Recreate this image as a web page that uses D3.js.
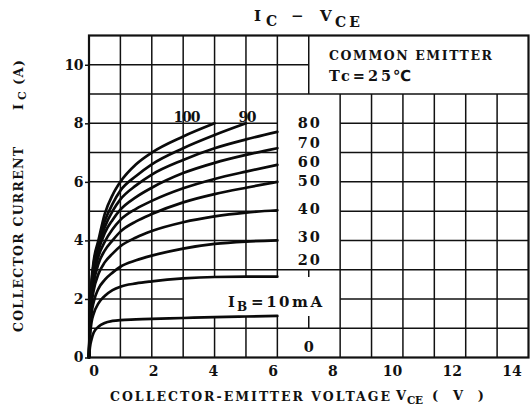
<!DOCTYPE html>
<html><head><meta charset="utf-8">
<script src="https://cdn.jsdelivr.net/npm/d3@7"></script>
<style>
body{margin:0;background:#fff}
text{font-family:"DejaVu Serif",serif;font-weight:bold;fill:#111}
</style>
</head><body>
<svg id="c" width="532" height="407"></svg>
<script>
// ---- data ----
const voltage = [0, 0.03, 0.08, 0.15, 0.3, 0.5, 0.75, 1, 1.5, 2, 3, 4, 5, 6];
const ib10  = [0, 0.35, 0.62, 0.85, 1.05, 1.18, 1.25, 1.28, 1.30, 1.32, 1.35, 1.38, 1.40, 1.42];
const ib20  = [0, 0.70, 1.20, 1.50, 1.85, 2.10, 2.30, 2.42, 2.53, 2.60, 2.70, 2.75, 2.76, 2.76];
const ib30  = [0, 0.90, 1.50, 1.90, 2.35, 2.65, 2.90, 3.10, 3.32, 3.48, 3.72, 3.88, 3.96, 4.00];
const ib40  = [0, 1.00, 1.80, 2.30, 2.85, 3.25, 3.55, 3.80, 4.10, 4.32, 4.62, 4.82, 4.95, 5.03];
const ib50  = [0, 1.10, 2.00, 2.55, 3.20, 3.65, 4.00, 4.30, 4.65, 4.90, 5.30, 5.58, 5.80, 6.00];
const ib60  = [0, 1.20, 2.15, 2.75, 3.45, 3.95, 4.38, 4.70, 5.08, 5.35, 5.78, 6.10, 6.35, 6.58];
const ib70  = [0, 1.30, 2.30, 2.95, 3.65, 4.25, 4.70, 5.05, 5.48, 5.80, 6.30, 6.65, 6.92, 7.15];
const ib80  = [0, 1.40, 2.40, 3.10, 3.80, 4.45, 5.00, 5.40, 5.88, 6.25, 6.75, 7.15, 7.45, 7.71];
const ib90  = [0, 1.50, 2.50, 3.20, 3.90, 4.65, 5.25, 5.70, 6.20, 6.60, 7.15, 7.60, 8.00, null];
const ib100 = [0, 1.60, 2.60, 3.30, 4.00, 4.90, 5.55, 6.00, 6.60, 7.00, 7.55, 8.00, null, null];
const seriesList = [ib10, ib20, ib30, ib40, ib50, ib60, ib70, ib80, ib90, ib100];

const xTicks = [0, 2, 4, 6, 8, 10, 12, 14];
const yTicks = [0, 2, 4, 6, 8, 10];

// grid segments in data units: horizontal [y, x1, x2], vertical [x, y1, y2]
const hGrid = [[10,0,7],[9,0,14],[8,0,6],[8,8,14],[7,0,6],[7,8,14],[6,0,6],[6,8,14],
               [5,0,6],[5,8,14],[4,0,6],[4,8,14],[3,0,14],[2,0,3],[2,8,14],[1,0,14]];
const vGrid = [[1,0,11],[2,0,11],[3,0,11],[4,0,1.38],[4,2.75,11],[5,0,1.40],[5,2.76,11],
               [6,0,1.42],[6,2.76,11],[7,9,11],[8,0,9],[9,0,9],[10,0,9],[11,0,9],[12,0,9],[13,0,9],
               [7,2.75,3],[7,1.0,1.42]];

const sideLabels = ["80","70","60","50","40","30","20","0"];
const sideLabelI = [7.84, 7.16, 6.51, 5.86, 4.90, 3.95, 3.16, 0.19];
const topLabels = ["100","90"];
const topLabelV = [3.12, 5.05];

// ---- drawing ----
const svg = d3.select("#c");
const x = d3.scaleLinear().domain([0,14]).range([89, 528.5]);
const y = d3.scaleLinear().domain([0,11]).range([357.5, 35.5]);
// printed tick numerals drift left of their grid lines in the original
const xLab = d3.scaleLinear().domain([0,14]).range([94, 512]);

const g = svg.append("g");
g.selectAll("line.h").data(hGrid).join("line")
  .attr("x1", d=>x(d[1])).attr("x2", d=>x(d[2])).attr("y1", d=>y(d[0])).attr("y2", d=>y(d[0]))
  .attr("stroke","#111").attr("stroke-width",1.5);
g.selectAll("line.v").data(vGrid).join("line")
  .attr("x1", d=>x(d[0])).attr("x2", d=>x(d[0])).attr("y1", d=>y(d[1])).attr("y2", d=>y(d[2]))
  .attr("stroke","#111").attr("stroke-width",1.5);

svg.append("rect").attr("x",x(0)).attr("y",y(11)).attr("width",x(14)-x(0)).attr("height",y(0)-y(11))
  .attr("fill","none").attr("stroke","#111").attr("stroke-width",2.2);

const line = d3.line().defined(d=>d[1]!=null).x(d=>x(d[0])).y(d=>y(d[1])).curve(d3.curveMonotoneX);
svg.selectAll("path.curve").data(seriesList).join("path")
  .attr("d", s => line(voltage.map((v,i)=>[v,s[i]])))
  .attr("fill","none").attr("stroke","#0a0a0a").attr("stroke-width",2.7).attr("stroke-linecap","round");

// bottom tick numerals
svg.append("g").selectAll("text").data(xTicks).join("text")
  .attr("x", d=>xLab(d)).attr("y", 376).attr("text-anchor","middle")
  .style("font-size","14px").text(d=>d);
// left axis
const ay = svg.append("g").attr("transform",`translate(${x(0)},0)`)
  .call(d3.axisLeft(y).tickValues(yTicks).tickSize(4).tickPadding(2).tickFormat(d3.format("d")));
ay.select(".domain").remove();
ay.selectAll("line").attr("stroke","#111").attr("stroke-width",1.5);
ay.selectAll("text").style("font-size","14px").style("font-family",null).attr("fill","#111").attr("letter-spacing","-0.5");

// title
const tt = svg.append("g").style("font-size","15px");
tt.append("text").attr("x",254).attr("y",21).text("I");
tt.append("text").attr("x",266).attr("y",25.5).style("font-size","14px").text("C");
tt.append("text").attr("x",291).attr("y",21).text("\u2212");
tt.append("text").attr("x",320).attr("y",21).text("V");
tt.append("text").attr("x",335).attr("y",26.5).style("font-size","14px")
  .attr("textLength",25).attr("lengthAdjust","spacing").text("CE");

// axis titles
svg.append("text").attr("x",110).attr("y",401).style("font-size","12.5px")
  .attr("textLength",280).attr("lengthAdjust","spacing").text("COLLECTOR-EMITTER VOLTAGE");
svg.append("text").attr("x",396).attr("y",400).style("font-size","13px").text("V");
svg.append("text").attr("x",407).attr("y",404).style("font-size","10.5px")
  .attr("textLength",16).attr("lengthAdjust","spacing").text("CE");
svg.append("text").attr("x",432).attr("y",400).style("font-size","13px")
  .attr("textLength",52).attr("lengthAdjust","spacing").text("(V)");

const yl = svg.append("g").attr("transform","translate(23,0)");
yl.append("text").attr("transform","translate(0,332) rotate(-90)").style("font-size","12.5px")
  .attr("textLength",185).attr("lengthAdjust","spacing").text("COLLECTOR CURRENT");
yl.append("text").attr("transform","translate(0,110) rotate(-90)").style("font-size","13px").text("I");
yl.append("text").attr("transform","translate(3,100) rotate(-90)").style("font-size","11px").text("C");
yl.append("text").attr("transform","translate(0,85) rotate(-90)").style("font-size","13px")
  .attr("textLength",25).attr("lengthAdjust","spacing").text("(A)");

// box text
svg.append("text").attr("x",329).attr("y",60).style("font-size","12.5px")
  .attr("textLength",163).attr("lengthAdjust","spacing").text("COMMON EMITTER");
svg.append("text").attr("x",329).attr("y",81).style("font-size","14.5px")
  .attr("textLength",62).attr("lengthAdjust","spacing").text("Tc=25");
svg.append("text").attr("x",393).attr("y",81).style("font-size","15px")
  .style("font-family","'DejaVu Sans'").text("\u2103");

// curve labels
svg.selectAll("text.side").data(sideLabels).join("text")
  .attr("x", x(7)).attr("y", (d,i)=>y(sideLabelI[i])).attr("text-anchor","middle")
  .style("font-size","14.5px").attr("textLength", d=>d.length*11).attr("lengthAdjust","spacing").text(d=>d);
svg.selectAll("text.top").data(topLabels).join("text")
  .attr("x", (d,i)=>x(topLabelV[i])).attr("y", y(8.05)).attr("text-anchor","middle")
  .style("font-size","14px").attr("textLength", d=>d.length*9).attr("lengthAdjust","spacing").text(d=>d);
svg.append("text").attr("x",x(4.43)).attr("y",y(1.73)).style("font-size","14.5px").text("I");
svg.append("text").attr("x",x(4.43)+9).attr("y",y(1.73)+4).style("font-size","12px").text("B");
svg.append("text").attr("x",x(4.43)+23).attr("y",y(1.73)).style("font-size","15px")
  .attr("textLength",71).attr("lengthAdjust","spacing").text("=10mA");
</script>
</body></html>
